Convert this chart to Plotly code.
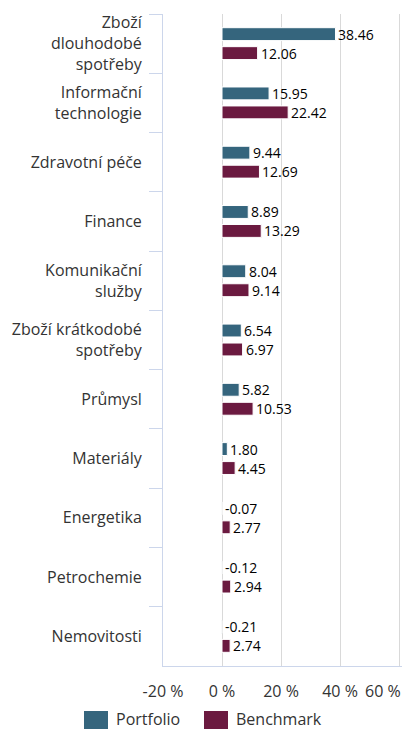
import plotly.graph_objects as go

categories = [
    "Zboží<br>dlouhodobé<br>spotřeby",
    "Informační<br>technologie",
    "Zdravotní péče",
    "Finance",
    "Komunikační<br>služby",
    "Zboží krátkodobé<br>spotřeby",
    "Průmysl",
    "Materiály",
    "Energetika",
    "Petrochemie",
    "Nemovitosti",
]
portfolio = [38.46, 15.95, 9.44, 8.89, 8.04, 6.54, 5.82, 1.80, -0.07, -0.12, -0.21]
benchmark = [12.06, 22.42, 12.69, 13.29, 9.14, 6.97, 10.53, 4.45, 2.77, 2.94, 2.74]
tick_vals = [-20, 0, 20, 40, 60]
tick_labels = ["-20 %", "0 %", "20 %", "40 %", "60 %"]
series_names = ["Portfolio", "Benchmark"]

C_PORT = "#35657d"
C_BENCH = "#6b1a40"
FONT = "Open Sans"
W, H = 405, 729
ML, MR, MT, MB = 163, 3, 14, 63
PW, PH = W - ML - MR, H - MT - MB


def px_x(p):
    return (p - ML) / PW


def px_y(p):
    return (H - MB - p) / PH


fig = go.Figure()
for name, vals, col in ((series_names[0], portfolio, C_PORT), (series_names[1], benchmark, C_BENCH)):
    fig.add_trace(go.Bar(
        name=name, y=categories, x=vals, orientation="h",
        marker=dict(color=col, line=dict(color="white", width=1)),
        hoverinfo="name+x+y", showlegend=False,
    ))

annotations = []
for series, shift in ((portfolio, 9.5), (benchmark, -9.5)):
    for cat, v in zip(categories, series):
        annotations.append(dict(
            x=max(v, 0), y=cat, xref="x", yref="y",
            text=f"{v:.2f}", showarrow=False,
            xanchor="left", yanchor="middle", xshift=1, yshift=shift,
            font=dict(family=FONT, size=14, color="#000000"),
        ))

# last tick label is pulled inside the chart edge (as in the original)
shown_ticks = tick_labels[:-1] + [""]
annotations.append(dict(
    x=1.0, y=px_y(690.5), xref="paper", yref="paper",
    text=tick_labels[-1], showarrow=False, xanchor="right", yanchor="middle",
    xshift=1, font=dict(family=FONT, size=16, color="#333333"),
))

# custom legend (large square symbols like the original)
shapes = []
legend_items = [(series_names[0], C_PORT, 84), (series_names[1], C_BENCH, 204)]
for name, col, left in legend_items:
    shapes.append(dict(
        type="rect", xref="paper", yref="paper",
        x0=px_x(left), x1=px_x(left + 24), y0=px_y(729), y1=px_y(711),
        fillcolor=col, line=dict(width=0),
    ))
    annotations.append(dict(
        x=px_x(left + 30), y=px_y(718.5), xref="paper", yref="paper",
        text=name, showarrow=False, xanchor="left", yanchor="middle",
        font=dict(family=FONT, size=16, color="#333333"),
    ))

fig.update_layout(
    width=W, height=H,
    margin=dict(l=ML, r=MR, t=MT, b=MB, autoexpand=False),
    paper_bgcolor="white", plot_bgcolor="white",
    barmode="group", bargap=0.36, bargroupgap=0.32,
    font=dict(family=FONT, size=16, color="#333333"),
    annotations=annotations, shapes=shapes,
    showlegend=False,
    xaxis=dict(
        range=[-20, 61.0], tickvals=tick_vals, ticktext=shown_ticks,
        showgrid=True, gridcolor="#d9d9d9", gridwidth=1,
        zeroline=False, showline=True, linecolor="#ccd6eb", linewidth=1,
        ticks="", ticklabelstandoff=11,
        tickfont=dict(family=FONT, size=16, color="#333333"),
        fixedrange=True,
    ),
    yaxis=dict(
        autorange="reversed", type="category",
        showline=True, linecolor="#ccd6eb", linewidth=1,
        ticks="outside", tickson="boundaries", ticklen=13, tickcolor="#ccd6eb",
        ticklabelstandoff=17, showgrid=False,
        tickfont=dict(family=FONT, size=16, color="#333333"),
        fixedrange=True,
    ),
)

fig.write_html("out.html")
